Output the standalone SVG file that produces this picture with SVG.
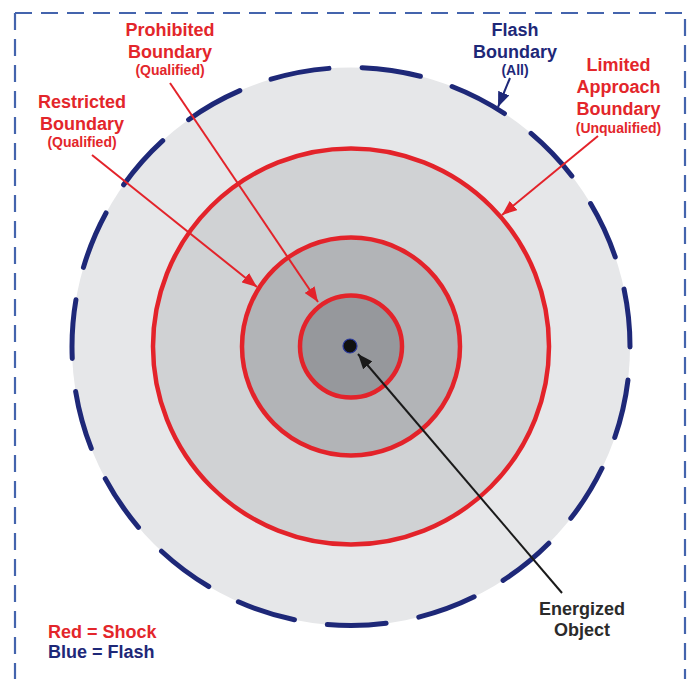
<svg xmlns="http://www.w3.org/2000/svg" width="687" height="679" viewBox="0 0 687 679">
<style>
text{font-family:"Liberation Sans",Arial,sans-serif;font-weight:bold;text-anchor:middle}
.r{fill:#e3262b}
.b{fill:#1e2878}
.k{fill:#2b2b2b}
.big{font-size:18px}
.sm{font-size:14px}
.ring{fill:none;stroke:#e3232a;stroke-width:4.5}
.con{fill:none;stroke-width:2}
</style>
<defs>
<marker id="ar" markerUnits="userSpaceOnUse" markerWidth="16" markerHeight="12" refX="15" refY="6" orient="auto"><path d="M0,0 L15,6 L0,12 z" fill="#e3232a"/></marker>
<marker id="ab" markerUnits="userSpaceOnUse" markerWidth="16" markerHeight="12" refX="15" refY="6" orient="auto"><path d="M0,0 L15,6 L0,12 z" fill="#1e2878"/></marker>
<marker id="ak" markerUnits="userSpaceOnUse" markerWidth="16" markerHeight="12" refX="15" refY="6" orient="auto"><path d="M0,0 L15,6 L0,12 z" fill="#1a1a1a"/></marker>
</defs>
<rect width="687" height="679" fill="#ffffff"/>
<g id="frame" fill="none" stroke="#4464ad" stroke-width="2.2" stroke-dasharray="17 9">
<path d="M15,13 V690"/>
<path d="M15,13 H685 V690"/>
</g>
<g id="flash-boundary">
<circle cx="351" cy="346.5" r="279" fill="#e6e7e9"/>
<circle cx="351" cy="346.5" r="279" fill="none" stroke="#1e2878" stroke-width="5" stroke-dasharray="59 33.26" stroke-dashoffset="58.5" stroke-linecap="round"/>
</g>
<g id="limited-approach-boundary">
<circle cx="351" cy="346.5" r="198" fill="#d0d2d4"/>
<circle class="ring" cx="351" cy="346.5" r="198"/>
</g>
<g id="restricted-boundary">
<circle cx="351" cy="346.5" r="109" fill="#b2b4b7"/>
<circle class="ring" cx="351" cy="346.5" r="109"/>
</g>
<g id="prohibited-boundary">
<circle cx="351" cy="346.5" r="51" fill="#96989c"/>
<circle class="ring" cx="351" cy="346.5" r="51"/>
</g>
<g id="energized-object">
<circle cx="350" cy="346" r="7" fill="#111111" stroke="#2a3aa0" stroke-width="1.2"/>
</g>
<g id="connectors">
<line class="con" x1="92" y1="155" x2="257" y2="287" stroke="#e3232a" marker-end="url(#ar)"/>
<line class="con" x1="170" y1="83" x2="318" y2="302" stroke="#e3232a" marker-end="url(#ar)"/>
<line class="con" x1="598" y1="136" x2="502" y2="215" stroke="#e3232a" marker-end="url(#ar)"/>
<line class="con" x1="510" y1="78" x2="498" y2="107" stroke="#1e2878" stroke-width="3.5" marker-end="url(#ab)"/>
<line class="con" x1="562" y1="593" x2="358" y2="354" stroke="#1a1a1a" marker-end="url(#ak)"/>
</g>
<g id="label-prohibited">
<text class="r big" x="170" y="35.5">Prohibited</text>
<text class="r big" x="170" y="57.5">Boundary</text>
<text class="r sm" x="170" y="75">(Qualified)</text>
</g>
<g id="label-restricted">
<text class="r big" x="82" y="108">Restricted</text>
<text class="r big" x="82" y="130">Boundary</text>
<text class="r sm" x="82" y="147">(Qualified)</text>
</g>
<g id="label-flash">
<text class="b big" x="515" y="35.5">Flash</text>
<text class="b big" x="515" y="57.5">Boundary</text>
<text class="b sm" x="515" y="75">(All)</text>
</g>
<g id="label-limited">
<text class="r big" x="618.5" y="71">Limited</text>
<text class="r big" x="618.5" y="93">Approach</text>
<text class="r big" x="618.5" y="115">Boundary</text>
<text class="r sm" x="618.5" y="133">(Unqualified)</text>
</g>
<g id="label-energized">
<text class="k big" x="582" y="615">Energized</text>
<text class="k big" x="582" y="636">Object</text>
</g>
<g id="legend">
<text class="r big" x="48" y="638" style="text-anchor:start">Red = Shock</text>
<text class="b big" x="48" y="658" style="text-anchor:start">Blue = Flash</text>
</g>
</svg>
